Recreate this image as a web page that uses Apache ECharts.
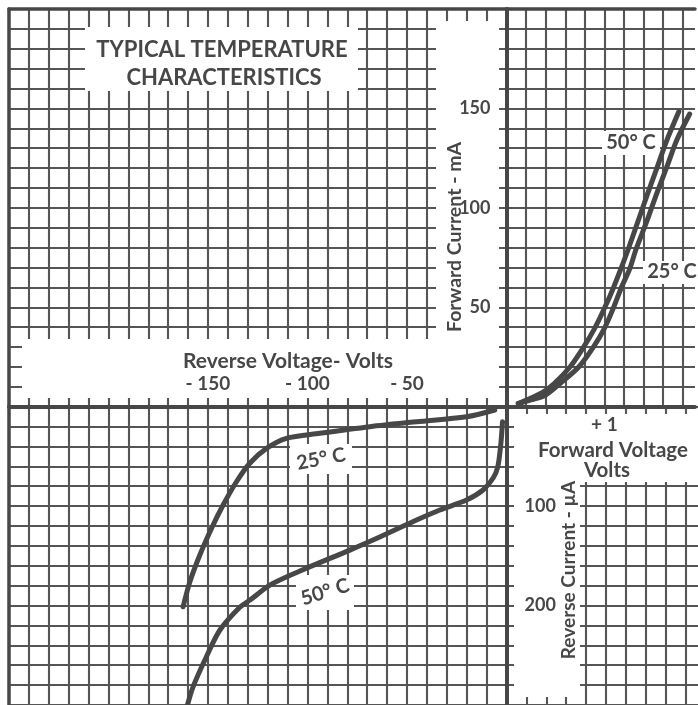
<!DOCTYPE html>
<html><head><meta charset="utf-8">
<script src="https://cdn.jsdelivr.net/npm/echarts@6/dist/echarts.min.js"></script>
<style>html,body{margin:0;padding:0;background:#fff}#c{width:698px;height:705px}</style>
</head><body><div id="c"></div>
<script>
// ---- data ----
// Forward characteristics (Volts, mA)
const fwd50Volts = [0.12, 0.23, 0.36, 0.49, 0.65, 0.79, 0.90, 1.00, 1.09, 1.17, 1.24, 1.34, 1.44, 1.54, 1.63, 1.76];
const fwd50mA    = [1.6, 3.9, 6.9, 11.8, 20.1, 30.2, 39.4, 49.5, 59.6, 69.6, 78.8, 92.9, 107, 120.6, 133.1, 148.4];
const fwd25Volts = [0.12, 0.25, 0.40, 0.55, 0.74, 0.89, 1.00, 1.09, 1.17, 1.26, 1.32, 1.43, 1.54, 1.64, 1.74, 1.87];
const fwd25mA    = [1.6, 3.4, 5.9, 11.8, 20.1, 30.2, 39.4, 49.5, 59.6, 69.6, 78.8, 92.9, 108, 121, 134.2, 147.2];
// Reverse characteristics (Volts, µA)
const rev25Volts = [-5.9, -20.1, -45.2, -68.7, -93.8, -110.6, -120.6, -129.0, -135.7, -142.4, -148.2, -154.1, -159.1, -162.5];
const rev25uA    = [3.3, 10.1, 15.1, 20.1, 26.8, 31.8, 41.9, 56.9, 75.5, 98.9, 122.3, 149.2, 176.1, 201.2];
const rev50Volts = [-2.0, -2.9, -4.4, -6.7, -11.8, -20.1, -33.5, -45.2, -63.7, -78.7, -103.8, -118.9, -128.9, -133.9, -144.0, -150.8, -157.5, -160.6];
const rev50uA    = [15.1, 38.5, 60.7, 71.7, 83.8, 93.9, 103.9, 114.0, 131.1, 144.2, 165.3, 179.4, 194.5, 201.5, 224.6, 251.5, 281.7, 302];
// tick labels
const forwardCurrentTicks = [50, 100, 150];
const reverseVoltageTicks = [-150, -100, -50];
const forwardVoltageTicks = [1];
const reverseCurrentTicks = [100, 200];

// ---- layout / style ----
const INK = '#474747', GRIDC = '#555555';
const W = 698, H = 705;
const L = 9, T = 9, X0 = 506.5, Y0 = 406.7, CW = 19.9, CH = 19.886;
const XMAX_F = (W - X0) / CW * 0.2;     // forward volts at right edge
const YMAX_R = (H - Y0) / CH * 20;      // reverse µA at bottom edge
const FONT = 'Lato, "Noto Sans", sans-serif';
const lab = (size) => ({ color: INK, fontFamily: FONT, fontWeight: 'bold', fontSize: size });

function pairs(xs, ys) { return xs.map((x, i) => [x, ys[i]]); }
function near(list, v) { return list.some(t => Math.abs(t - v) < 1e-6); }

function splitAxis(grid, pos, min, max, interval, inverse, border) {
  return {
    type: 'value', gridIndex: grid, position: pos, min, max, interval, inverse: !!inverse, z: 0,
    axisLine: { show: !!border, onZero: false, lineStyle: { color: INK, width: 3.5 } },
    axisTick: { show: false }, axisLabel: { show: false },
    splitLine: { show: true, showMaxLine: false, lineStyle: { color: GRIDC, width: 2.1 } }
  };
}
function labelAxis(grid, pos, min, max, interval, inverse, ticks, fmt, margin, size) {
  return {
    type: 'value', gridIndex: grid, position: pos, min, max, interval, inverse: !!inverse, z: 3,
    axisLine: { show: true, onZero: false, lineStyle: { color: INK, width: 4 } },
    axisTick: { show: false }, splitLine: { show: false },
    axisLabel: Object.assign({ show: true, margin, showMinLabel: true, showMaxLabel: true,
      formatter: v => near(ticks, v) ? fmt(v) : '' }, lab(size))
  };
}

const grids = [
  { left: X0, top: T, right: 0, height: 20 * CH },      // forward quadrant
  { left: L, top: T, width: 25 * CW, height: 20 * CH }, // upper left
  { left: L, top: Y0, width: 25 * CW, bottom: 0 },      // reverse quadrant
  { left: X0, top: Y0, right: 0, bottom: 0 }            // lower right
];

const xAxes = [
  labelAxis(0, 'bottom', 0, XMAX_F, 0.2, false, forwardVoltageTicks, v => '+ ' + Math.round(v), 9, 19),
  splitAxis(0, 'top', 0, XMAX_F, 0.2, false, true),
  splitAxis(1, 'top', -250, 0, 10, false, true),
  labelAxis(2, 'top', -250, 0, 10, false, reverseVoltageTicks, v => '- ' + Math.abs(v), 13, 19),
  splitAxis(2, 'bottom', -250, 0, 10, false, false),
  splitAxis(3, 'bottom', 0, XMAX_F, 0.2, false, false)
];
const yAxes = [
  labelAxis(0, 'left', 0, 200, 10, false, forwardCurrentTicks, v => String(v), 16, 18),
  splitAxis(0, 'right', 0, 200, 10, false, false),
  splitAxis(1, 'left', 0, 200, 10, false, true),
  labelAxis(2, 'right', 0, YMAX_R, 20, true, reverseCurrentTicks, v => String(v), 18, 18),
  splitAxis(2, 'left', 0, YMAX_R, 20, true, true),
  splitAxis(3, 'left', 0, YMAX_R, 20, true, false)
];

const curve = (name, data, xi, yi) => ({
  name, type: 'line', data, xAxisIndex: xi, yAxisIndex: yi, smooth: 0.3,
  showSymbol: false, symbol: 'none', z: 5, silent: true,
  lineStyle: { color: INK, width: 5, cap: 'round', join: 'round' }
});

const white = (x, y, w, h) => ({ type: 'rect', shape: { x, y, width: w, height: h }, style: { fill: '#ffffff' }, z: 1, silent: true });
const txt = (s, x, y, size, rot) => ({
  type: 'text', x, y, rotation: rot || 0, z: 10, silent: true,
  style: { text: s, fill: INK, font: 'bold ' + size + 'px ' + FONT, align: 'center', verticalAlign: 'middle' }
});
const deg = Math.PI / 180;

const option = {
  backgroundColor: '#ffffff',
  animation: false,
  grid: grids,
  xAxis: xAxes,
  yAxis: yAxes,
  series: [
    curve('50°C forward', pairs(fwd50Volts, fwd50mA), 0, 0),
    curve('25°C forward', pairs(fwd25Volts, fwd25mA), 0, 0),
    curve('25°C reverse', pairs(rev25Volts, rev25uA), 3, 3),
    curve('50°C reverse', pairs(rev50Volts, rev50uA), 3, 3)
  ],
  graphic: { elements: [
    white(85, 27, 273, 64),        // title box
    white(436, 21, 63, 377),       // forward current label box
    white(22, 339, 477, 59),       // reverse voltage label box
    white(514, 414, 190, 68),      // forward voltage label box
    white(514, 414, 66, 283),      // reverse current label box
    white(602, 131, 58, 24),       // 50°C fwd label
    white(643, 261, 60, 23),       // 25°C fwd label
    white(290, 444, 62, 30),       // 25°C rev label
    white(296, 575, 58, 35),       // 50°C rev label
    txt('TYPICAL TEMPERATURE', 222, 50, 22),
    txt('CHARACTERISTICS', 224, 78, 22),
    txt('Forward Current - mA', 455, 237, 19.5, 90 * deg),
    txt('Reverse Voltage- Volts', 288, 361, 21),
    txt('Forward Voltage', 613, 450, 20.5),
    txt('Volts', 607, 470, 20.5),
    txt('Reverse Current - µA', 569, 570, 19, 90 * deg),
    txt('50° C', 631, 143, 20),
    txt('25° C', 672, 272, 20),
    txt('25° C', 321, 459, 20, 11 * deg),
    txt('50° C', 325, 592, 20, 17 * deg)
  ]}
};
const chart = echarts.init(document.getElementById('c'));
chart.setOption(option);
</script>
</body></html>
